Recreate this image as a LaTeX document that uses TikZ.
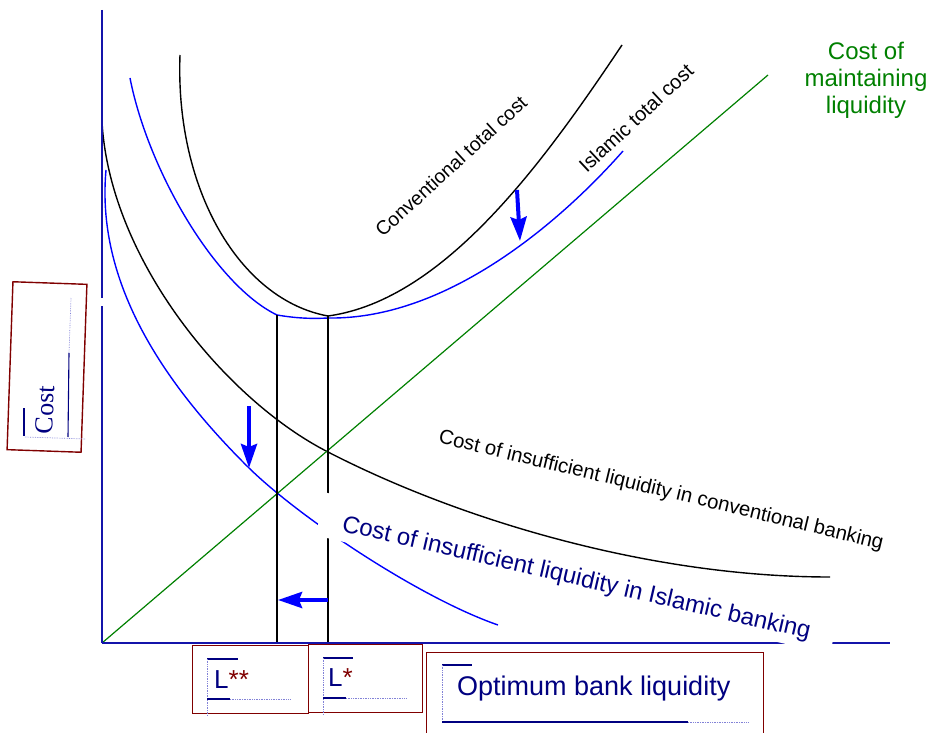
\documentclass[tikz,border=0pt]{standalone}
\usepackage{fontspec}
\setmainfont{Liberation Sans}
\newfontfamily\costserif{Liberation Serif}
\usetikzlibrary{arrows.meta}
\definecolor{axisblue}{RGB}{20,20,170}
\definecolor{curveblue}{RGB}{0,0,255}
\definecolor{navy}{RGB}{0,0,128}
\definecolor{darkred}{RGB}{128,0,0}
\definecolor{mygreen}{RGB}{0,128,0}
\definecolor{frameblue}{RGB}{130,130,215}
\begin{document}
\begin{tikzpicture}[x=1pt,y=-1pt,
  axisline/.style={draw=axisblue, line width=1.3pt},
  blackcurve/.style={draw=black, line width=1.4pt},
  bluecurve/.style={draw=curveblue, line width=1.4pt},
  greenline/.style={draw=mygreen, line width=1.2pt},
  shiftarrow/.style={draw=curveblue, line width=4pt, -{Stealth[length=24pt,width=16pt,inset=3pt]}},
  labelbox/.style={draw=darkred, line width=1.4pt},
  framesolid/.style={draw=navy, line width=1.1pt},
  framedot/.style={draw=frameblue, line width=0.7pt, densely dotted},
]
\useasboundingbox (0,0) rectangle (929,733);

% named points
\coordinate (O) at (102,643);
\coordinate (ytop) at (102,10);
\coordinate (ygapa) at (102,298);
\coordinate (ygapb) at (102,306);
\coordinate (xend) at (890,643);
\coordinate (gend) at (768,75);
\coordinate (Lssb) at (277,643);
\coordinate (Lsst) at (277,315);
\coordinate (Lsb) at (328,643);
\coordinate (Lst) at (328,316);
\coordinate (Lsbl) at (328,318);

% conventional total cost
\coordinate (ctc0) at (180,55);
\coordinate (ctc1) at (622,45);
\draw[blackcurve] (ctc0) .. controls (175,190) and (240,300) .. (Lst)
                         .. controls (445,300) and (545,160) .. (ctc1);
% Islamic total cost
\coordinate (itc0) at (130,78);
\coordinate (itc1) at (623,151);
\draw[bluecurve] (itc0) .. controls (148,170) and (215,285) .. (Lsst)
                        .. controls (295,318) and (310,319) .. (Lsbl)
                        .. controls (460,320) and (580,200) .. (itc1);
% cost of insufficient liquidity, conventional
\coordinate (cic0) at (102,122);
\coordinate (cicm) at (328,452);
\coordinate (cic1) at (830,577);
\draw[blackcurve] (cic0) .. controls (110,260) and (226,400) .. (cicm)
                         .. controls (460,520) and (650,577) .. (cic1);
% cost of insufficient liquidity, Islamic
\coordinate (iic0) at (106,170);
\coordinate (iicm) at (249,468);
\coordinate (iic1) at (498,625);
\draw[bluecurve] (iic0) .. controls (96,280) and (160,380) .. (iicm)
                        .. controls (300,518) and (420,598) .. (iic1);

\draw[greenline] (O) -- (gend);
\draw[blackcurve] (Lsst) -- (Lssb);
\draw[blackcurve] (Lst) -- (Lsb);

% axes
\draw[axisline] (ytop) -- (ygapa);
\draw[axisline] (ygapb) -- (O);
\draw[axisline] (O) -- (xend);

% shift arrows
\coordinate (a1s) at (517,190);
\coordinate (a1e) at (520,241);
\coordinate (a2s) at (249,406);
\coordinate (a2e) at (249,468);
\coordinate (a3s) at (328,600);
\coordinate (a3e) at (278,600);
\draw[shiftarrow] (a1s) -- (a1e);
\draw[shiftarrow] (a2s) -- (a2e);
\draw[shiftarrow] (a3s) -- (a3e);

% curve labels
\node[rotate=42.5, inner sep=0, font=\fontsize{19.5}{21}\selectfont] (convtc) at (451,166) {Conventional total cost};
\node[rotate=43, inner sep=0, font=\fontsize{20}{21}\selectfont] (islamtc) at (636,118) {Islamic total cost};
\node[align=center, text=mygreen, inner sep=0, font=\fontsize{24}{27}\selectfont] (maint) at (866,80) {Cost of\\maintaining\\liquidity};
\node[rotate=-13.5, inner sep=0, font=\fontsize{20.3}{22}\selectfont] (convins) at (661,491) {Cost of insufficient liquidity in conventional banking};
\node[rotate=-13, anchor=base west, fill=white, inner xsep=24pt, inner ysep=0pt, text height=34pt, text depth=10pt, text=navy, font=\fontsize{24}{26}\selectfont] (islins) at (317.6,525.6) {Cost of insufficient liquidity in Islamic banking};

% Cost box
\node[labelbox, rotate=-2, minimum width=74pt, minimum height=168pt, inner sep=0] (costbox) at (47,367) {};
\draw[framesolid] (24,408) -- (24,436);
\draw[framedot] (25,437) -- (86,439);
\draw[framesolid] (68,437) -- (69,353);
\draw[framedot] (69,353) -- (71,298);
\node[rotate=88, inner sep=0, text=navy, font=\costserif\fontsize{26}{28}\selectfont] (costlbl) at (45,410) {Cost};

% L** box
\node[labelbox, anchor=north west, minimum width=116pt, minimum height=68pt, inner sep=0] (lssbox) at (192,645) {};
\draw[framesolid] (207,659) -- (238,659);
\draw[framedot] (207,659) -- (207,716);
\draw[framesolid] (207,699) -- (230,699);
\draw[framedot] (230,699) -- (291,699);
\node[anchor=base west, inner sep=0, text=navy, font=\fontsize{26}{28}\selectfont] (lss) at (214,688) {L\textcolor{darkred}{**}};

% L* box
\node[labelbox, anchor=north west, minimum width=114pt, minimum height=68pt, inner sep=0] (lsbox) at (308,644) {};
\draw[framesolid] (323,658) -- (353,658);
\draw[framedot] (323,658) -- (323,715);
\draw[framesolid] (323,698) -- (346,698);
\draw[framedot] (346,698) -- (406,698);
\node[anchor=base west, inner sep=0, text=navy, font=\fontsize{26}{28}\selectfont] (ls) at (328,686) {L\textcolor{darkred}{*}};

% Optimum box
\node[labelbox, anchor=north west, minimum width=337pt, minimum height=90pt, inner sep=0] (optbox) at (426,652) {};
\draw[framesolid] (442,665) -- (472,665);
\draw[framedot] (442,665) -- (442,722);
\draw[framesolid] (442,722) -- (688,722);
\draw[framedot] (688,722) -- (748,722);
\node[anchor=base west, inner sep=0, text=navy, font=\fontsize{27}{30}\selectfont] (opt) at (457,695) {Optimum bank liquidity};
\end{tikzpicture}
\end{document}
